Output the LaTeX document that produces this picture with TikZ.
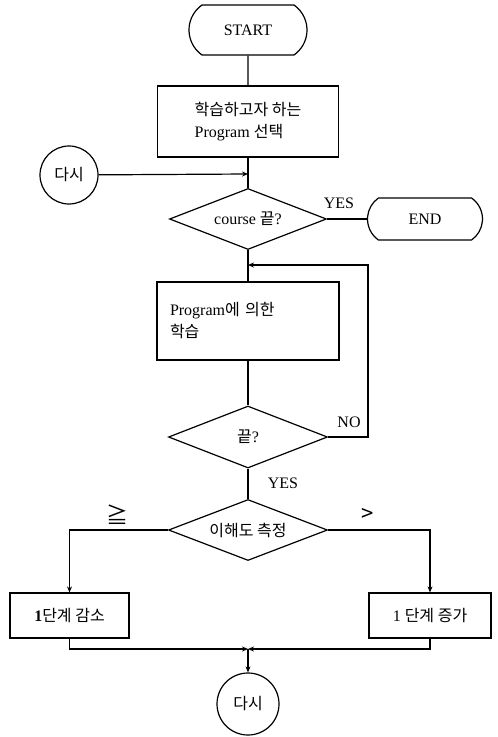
\documentclass[tikz,border=0pt]{standalone}
\usepackage{fontspec}
\setmainfont{Liberation Serif}
\newfontfamily\kr{Noto Sans CJK KR}
\usetikzlibrary{shapes.geometric,shapes.misc,arrows.meta}
\begin{document}
\begin{tikzpicture}[x=1pt,y=-1pt,
  every node/.style={font=\fontsize{16}{22}\selectfont, inner sep=0pt},
  line/.style={line width=1.2pt},
  arr/.style={line width=1.2pt,-{Stealth[length=6pt,width=5pt]}},
  term/.style={draw,line width=1.2pt,rounded rectangle,rounded rectangle arc length=110},
  procbox/.style={draw,line width=1.2pt,rectangle},
  dec/.style={draw,line width=1.2pt,diamond,aspect=2.57},
  conn/.style={draw,line width=1.2pt,circle},
  sym/.style={font=\fontsize{22}{22}\selectfont\kr}]
\useasboundingbox (0,0) rectangle (498,737);
\node[term,minimum width=118pt,minimum height=50pt] (start) at (248,30) {START};
\node[procbox,minimum width=181pt,minimum height=71pt,align=left] (b1) at (248,121.5)
  {{\kr 학습하고자 하는}\\Program {\kr 선택}};
\node[conn,minimum size=58pt] (c1) at (69,175) {\kr 다시};
\coordinate (j1) at (248,174);
\node[dec,minimum width=157pt,minimum height=61pt] (d1) at (248,219) {course {\kr 끝}?};
\node[term,minimum width=115pt,minimum height=42pt] (end) at (425,219) {END};
\node at (339,203) {YES};
\coordinate (j2) at (248,265);
\node[procbox,minimum width=182pt,minimum height=78pt,align=left,text width=156pt] (b2) at (248,321)
  {Program{\kr 에 의한}\\{\kr 학습}};
\node[dec,minimum width=159pt,minimum height=62pt] (d2) at (248,437) {{\kr 끝}?};
\node at (349,422) {NO};
\coordinate (r1) at (368,437);
\node at (283,483) {YES};
\node[dec,minimum width=159pt,minimum height=61pt] (d3) at (248,530) {\kr 이해도 측정};
\node[sym] at (117,515) {≧};
\node[sym] at (368,515) {>};
\node[procbox,minimum width=119pt,minimum height=45pt] (b3) at (69.5,615.5) {\textbf{1}{\kr 단계 감소}};
\node[procbox,minimum width=122pt,minimum height=45pt] (b4) at (430,615.5) {1 {\kr 단계 증가}};
\coordinate (jb) at (248,649);
\node[conn,minimum size=62pt] (c2) at (248,704) {\kr 다시};
% connectors
\draw[line] (start) -- (b1);
\draw[line] (b1) -- (d1);
\draw[arr] (c1) -- (j1);
\draw[line] (d1) -- (end);
\draw[line] (d1) -- (b2);
\draw[line] (b2) -- (d2);
\draw[arr] (d2.east) -- (r1) |- (j2);
\draw[line] (d2) -- (d3);
\draw[arr] (d3.west) -| (b3.north);
\draw[arr] (d3.east) -| (b4.north);
\draw[arr] (b3.south) |- (jb);
\draw[arr] (b4.south) |- (jb);
\draw[arr] (jb) -- (c2);
\end{tikzpicture}
\end{document}
